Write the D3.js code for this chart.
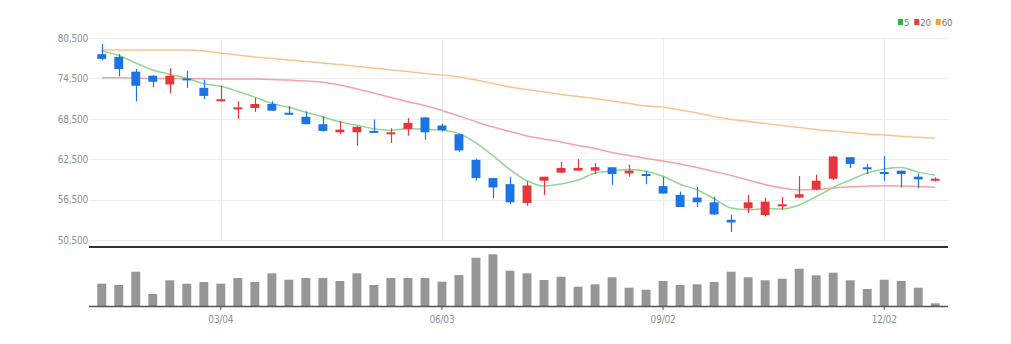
<!DOCTYPE html>
<html>
<head>
<meta charset="utf-8">
<script src="https://cdn.jsdelivr.net/npm/d3@7/dist/d3.min.js"></script>
<style>
  html, body { margin: 0; padding: 0; background: #fff; }
  svg { display: block; }
  .lbl { font-family: "Liberation Sans Narrow", "DejaVu Sans Condensed", "Roboto", sans-serif; fill: #8f8f8f; letter-spacing: -0.2px; }
</style>
</head>
<body>
<svg id="chart" width="1011" height="344"></svg>
<script>
// Weekly candles (KRW), Jan 15 – Dec 23
const weeks = ["01/15","01/22","01/29","02/05","02/12","02/19","02/26","03/04","03/11","03/18",
  "03/25","04/01","04/08","04/15","04/22","04/29","05/06","05/13","05/20","05/27",
  "06/03","06/10","06/17","06/24","07/01","07/08","07/15","07/22","07/29","08/05",
  "08/12","08/19","08/26","09/02","09/09","09/16","09/23","09/30","10/07","10/14",
  "10/21","10/28","11/04","11/11","11/18","11/25","12/02","12/09","12/16","12/23"];

const open  = [78100,77700,75500,74900,73600,74500,73100,71100,69900,70100,
  70700,69400,68800,67700,66500,66500,66700,66200,67000,68700,
  67500,66200,62400,59700,58800,56000,59300,60500,60800,60800,
  61300,60400,60300,58500,57200,56800,56100,53500,55200,54200,
  55500,56800,58000,59600,62800,61300,60600,60800,59900,59300];
const high  = [79600,78100,75900,75000,76000,75600,74300,73400,71100,71600,
  71100,70400,69600,68900,68200,67400,68400,67100,68600,68800,
  67800,66300,62600,59700,59900,59200,59900,62100,62500,61900,
  61300,61700,60800,59900,57700,58400,56900,54200,57200,56800,
  56900,60000,60200,63000,62800,61800,63000,60800,60400,59800];
const low   = [77200,74800,71100,73200,72300,73100,71400,71100,68500,69500,
  69700,69100,67700,66600,66200,64500,66400,64900,66000,65400,
  66600,63600,59300,56700,55800,55600,57200,60400,60800,60300,
  58700,59900,58800,57400,55400,55400,54200,51700,54500,54000,
  55000,56700,57900,59400,61200,60300,59300,58300,58200,59200];
const close = [77400,75900,73400,74000,74900,74400,71900,71400,70200,70700,
  69700,69100,67700,66700,66900,67300,66500,66500,67900,66500,
  66800,63800,59700,58300,56100,58600,59900,61200,61200,61300,
  60300,60800,60000,57400,55400,56100,54300,53100,56100,56200,
  55800,57300,59300,62900,61800,61000,60300,60300,59500,59600];

// Trading volume (thousand shares)
const volume = [223,210,343,120,257,223,240,223,280,240,
  327,263,280,280,250,327,210,280,280,280,
  243,310,483,517,353,327,260,293,193,217,
  287,183,163,250,210,217,240,343,287,257,
  273,373,307,333,257,170,263,250,183,27];

// Moving averages
const ma5  = [78570,77900,76790,75750,75120,74520,73720,73320,72560,71720,
  70780,70220,69480,68780,68020,67540,67020,66780,67020,66940,
  66840,66300,64940,63020,60940,59300,58520,58820,59400,60440,
  60780,60960,60720,59960,58780,57940,56640,55260,55000,55160,
  55100,55700,56940,58300,59420,60460,61060,61260,60580,60140];
const ma20 = [74600,74600,74550,74500,74500,74450,74450,74400,74400,74400,
  74330,74260,74110,73920,73520,72920,72330,71660,71040,70480,
  69730,68920,68070,67280,66620,65950,65500,65060,64540,64100,
  63500,63060,62610,62240,61800,61280,60680,60090,59410,58740,
  58220,57930,58000,58220,58400,58490,58550,58520,58450,58330];
const ma60 = [78700,78700,78700,78700,78700,78700,78570,78270,77980,77680,
  77460,77230,77010,76790,76560,76270,76050,75750,75530,75230,
  75010,74710,74270,73750,73220,72850,72480,72110,71810,71520,
  71140,70770,70400,70250,69810,69360,68840,68400,68100,67800,
  67500,67210,66910,66690,66470,66250,66100,65900,65760,65610];

const priceTicks = [80500, 74500, 68500, 62500, 56500, 50500];
const dateTicks = ["03/04", "06/03", "09/02", "12/02"];

const maSeries = [
  { name: "5",  values: ma5,  line: "#8fd68f", key: "#2db52d" },
  { name: "20", values: ma20, line: "#f5a3a8", key: "#ef3a3a" },
  { name: "60", values: ma60, line: "#f8c592", key: "#f5a03a" }
];

const UP = "#e8353b", DOWN = "#1c74e4";

const svg = d3.select("#chart");
const left = 89, right = 948;
const priceTop = 38, priceBottom = 247;
const volTop = 252, volBottom = 306;

const x = d3.scaleBand().domain(weeks).range([left, right]).padding(0.5);
const cx = d => x(d) + x.bandwidth() / 2;
const y = d3.scaleLinear().domain([50500, 80500]).range([240, priceTop]);
const yv = d3.scaleLinear().domain([0, 540]).range([volBottom, volTop]);

// grid
const grid = svg.append("g");
grid.selectAll("line.h").data(priceTicks).join("line")
  .attr("x1", left).attr("x2", right)
  .attr("y1", d => Math.round(y(d)) + 0.5).attr("y2", d => Math.round(y(d)) + 0.5)
  .attr("stroke", "#ececec");
grid.selectAll("line.v").data(dateTicks).join("line")
  .attr("x1", d => Math.round(cx(d)) + 0.5).attr("x2", d => Math.round(cx(d)) + 0.5)
  .attr("y1", priceTop).attr("y2", 241)
  .attr("stroke", "#ececec");

// price axis labels
const yAxis = d3.axisLeft(y).tickValues(priceTicks).tickSize(0).tickPadding(0)
  .tickFormat(d3.format(","));
svg.append("g").attr("transform", `translate(${left - 1},0)`).call(yAxis)
  .call(g => g.select(".domain").remove())
  .call(g => g.selectAll("text").attr("class", "lbl").attr("font-size", 10)
    .attr("font-family", null));

// moving average lines
const line = vals => d3.line().x((d, i) => cx(weeks[i])).y(d => y(d)).curve(d3.curveMonotoneX)(vals);
svg.append("g").selectAll("path").data(maSeries.slice().reverse()).join("path")
  .attr("d", s => line(s.values)).attr("fill", "none")
  .attr("stroke", s => s.line).attr("stroke-width", 1.5);

// candles
const candles = svg.append("g").selectAll("g").data(weeks).join("g");
const col = i => close[i] >= open[i] ? UP : DOWN;
candles.append("line")
  .attr("x1", (d) => Math.round(cx(d)) + 0.5).attr("x2", d => Math.round(cx(d)) + 0.5)
  .attr("y1", (d, i) => y(high[i])).attr("y2", (d, i) => y(low[i]))
  .attr("stroke", (d, i) => col(i)).attr("stroke-width", 1.2);
candles.append("rect")
  .attr("x", d => x(d) - 0.2).attr("width", x.bandwidth() + 0.4)
  .attr("y", (d, i) => y(Math.max(open[i], close[i])))
  .attr("height", (d, i) => Math.max(2, Math.abs(y(open[i]) - y(close[i]))))
  .attr("fill", (d, i) => col(i));

// separator under price panel
svg.append("line").attr("x1", left).attr("x2", right)
  .attr("y1", priceBottom).attr("y2", priceBottom)
  .attr("stroke", "#333").attr("stroke-width", 2);

// volume bars
svg.append("g").selectAll("rect").data(weeks).join("rect")
  .attr("x", d => x(d) - 0.2).attr("width", x.bandwidth() + 0.4)
  .attr("y", (d, i) => yv(volume[i]))
  .attr("height", (d, i) => volBottom - yv(volume[i]))
  .attr("fill", "#969696");

// date axis
const xAxis = d3.axisBottom(x).tickValues(dateTicks).tickSize(4).tickPadding(6);
svg.append("g").attr("transform", `translate(0,${volBottom})`).call(xAxis)
  .call(g => g.select(".domain").attr("stroke", "#555").attr("stroke-width", 1.5)
    .attr("d", `M${left},0.5H${right}`))
  .call(g => g.selectAll(".tick line").attr("stroke", "#555"))
  .call(g => g.selectAll("text").attr("class", "lbl").attr("font-size", 10)
    .attr("font-family", null));

// legend
const legend = svg.append("g").attr("transform", "translate(898,22)");
let lx = 0;
maSeries.forEach(s => {
  legend.append("rect").attr("x", lx).attr("y", -3).attr("width", 5).attr("height", 6).attr("fill", s.key);
  const t = legend.append("text").attr("class", "lbl").attr("x", lx + 6).attr("y", 3.5)
    .attr("font-size", 9.5).style("fill", "#777").text(s.name);
  lx += 6 + t.node().getComputedTextLength() + 5;
});
</script>
</body>
</html>
